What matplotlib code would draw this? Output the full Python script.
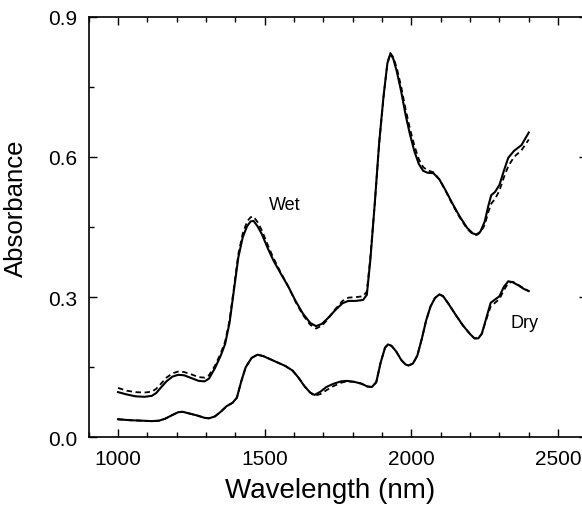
import numpy as np
import matplotlib
matplotlib.use("Agg")
import matplotlib.pyplot as plt
from matplotlib.ticker import MultipleLocator

plt.rcParams['font.family'] = ['Liberation Sans', 'DejaVu Sans']

# values (wavelength in nm, absorbance)
wet_nm = [1000, 1030, 1060, 1090, 1115, 1130, 1145, 1165, 1185, 1205,
          1225, 1250, 1275, 1295, 1310, 1330, 1350, 1365, 1380, 1395,
          1410, 1425, 1440, 1452, 1462, 1475, 1490, 1510, 1530, 1555,
          1580, 1605, 1630, 1655, 1675, 1695, 1715, 1740, 1765, 1785,
          1810, 1835, 1848, 1860, 1875, 1890, 1905, 1918, 1928, 1938,
          1950, 1965, 1980, 1995, 2010, 2025, 2040, 2055, 2075, 2095,
          2115, 2140, 2165, 2190, 2210, 2222, 2235, 2250, 2262, 2272,
          2285, 2300, 2315, 2330, 2350, 2375, 2400]

wet_solid = [0.097, 0.092, 0.088, 0.087, 0.089, 0.095, 0.106, 0.120, 0.130, 0.134,
             0.133, 0.127, 0.121, 0.120, 0.126, 0.148, 0.175, 0.200, 0.245, 0.315,
             0.385, 0.428, 0.452, 0.462, 0.463, 0.452, 0.435, 0.405, 0.378, 0.350,
             0.323, 0.292, 0.265, 0.245, 0.238, 0.243, 0.255, 0.272, 0.287, 0.292,
             0.292, 0.294, 0.305, 0.380, 0.500, 0.630, 0.730, 0.800, 0.820, 0.810,
             0.783, 0.740, 0.690, 0.648, 0.612, 0.585, 0.570, 0.566, 0.565, 0.552,
             0.530, 0.500, 0.472, 0.448, 0.436, 0.434, 0.440, 0.462, 0.495, 0.518,
             0.525, 0.540, 0.570, 0.598, 0.613, 0.625, 0.652]

wet_dashed = [0.106, 0.100, 0.097, 0.096, 0.098, 0.104, 0.114, 0.128, 0.137, 0.141,
              0.140, 0.135, 0.129, 0.128, 0.133, 0.153, 0.180, 0.205, 0.250, 0.320,
              0.392, 0.436, 0.462, 0.471, 0.472, 0.461, 0.443, 0.412, 0.383, 0.352,
              0.323, 0.290, 0.262, 0.241, 0.233, 0.239, 0.253, 0.274, 0.292, 0.299,
              0.300, 0.302, 0.312, 0.385, 0.500, 0.628, 0.728, 0.800, 0.822, 0.813,
              0.790, 0.750, 0.702, 0.660, 0.624, 0.595, 0.578, 0.571, 0.567, 0.552,
              0.529, 0.498, 0.470, 0.446, 0.434, 0.433, 0.438, 0.455, 0.482, 0.500,
              0.510, 0.528, 0.556, 0.580, 0.600, 0.614, 0.637]

dry_nm = [1000, 1040, 1080, 1115, 1140, 1160, 1185, 1205, 1220, 1245,
          1270, 1295, 1310, 1330, 1350, 1370, 1390, 1405, 1420, 1435,
          1455, 1475, 1495, 1520, 1545, 1570, 1595, 1615, 1635, 1655,
          1670, 1690, 1710, 1735, 1760, 1780, 1805, 1830, 1850, 1865,
          1880, 1895, 1910, 1920, 1932, 1948, 1965, 1980, 1990, 2005,
          2020, 2035, 2050, 2065, 2080, 2095, 2108, 2125, 2150, 2175,
          2200, 2215, 2228, 2240, 2255, 2270, 2285, 2300, 2315, 2330,
          2345, 2365, 2385, 2400]

dry_solid = [0.039, 0.037, 0.036, 0.035, 0.036, 0.040, 0.048, 0.054, 0.055, 0.051,
             0.047, 0.042, 0.041, 0.045, 0.055, 0.067, 0.074, 0.085, 0.120, 0.150,
             0.170, 0.177, 0.174, 0.167, 0.160, 0.153, 0.143, 0.128, 0.110, 0.096,
             0.091, 0.098, 0.108, 0.115, 0.120, 0.121, 0.119, 0.115, 0.109, 0.108,
             0.118, 0.160, 0.192, 0.199, 0.196, 0.184, 0.166, 0.156, 0.154, 0.158,
             0.175, 0.210, 0.250, 0.280, 0.298, 0.306, 0.302, 0.287, 0.263, 0.240,
             0.221, 0.212, 0.212, 0.222, 0.255, 0.288, 0.295, 0.302, 0.322, 0.334,
             0.332, 0.325, 0.317, 0.313]

dry_dashed = [0.039, 0.037, 0.036, 0.035, 0.036, 0.040, 0.048, 0.054, 0.055, 0.051,
              0.047, 0.042, 0.041, 0.045, 0.055, 0.067, 0.074, 0.085, 0.120, 0.150,
              0.170, 0.177, 0.174, 0.167, 0.160, 0.153, 0.143, 0.128, 0.110, 0.096,
              0.089, 0.093, 0.101, 0.110, 0.117, 0.120, 0.119, 0.115, 0.109, 0.108,
              0.118, 0.160, 0.192, 0.199, 0.196, 0.184, 0.166, 0.156, 0.154, 0.158,
              0.175, 0.210, 0.250, 0.280, 0.298, 0.306, 0.302, 0.287, 0.263, 0.240,
              0.221, 0.212, 0.212, 0.222, 0.252, 0.280, 0.288, 0.296, 0.315, 0.330,
              0.333, 0.326, 0.318, 0.313]

fig = plt.figure(figsize=(5.82, 5.06), dpi=100)
# right edge of the axes lies just outside the picture, as in the original
ax = fig.add_axes([0.1524, 0.1334, 0.857, 0.832])

ax.plot(wet_nm, wet_dashed, color='black', lw=1.3, ls=(0, (3, 2)))
ax.plot(dry_nm, dry_dashed, color='black', lw=1.3, ls=(0, (3, 2)))
ax.plot(wet_nm, wet_solid, color='black', lw=1.5)
ax.plot(dry_nm, dry_solid, color='black', lw=1.5)

ax.text(1569, 0.499, "Wet", fontsize=13, ha='center', va='center')
ax.text(2387, 0.245, "Dry", fontsize=13, ha='center', va='center')

ax.set_xlim(900, 2600)
ax.set_ylim(0, 0.9)
ax.xaxis.set_major_locator(MultipleLocator(500))
ax.xaxis.set_minor_locator(MultipleLocator(100))
ax.yaxis.set_major_locator(MultipleLocator(0.3))
ax.yaxis.set_minor_locator(MultipleLocator(0.15))
ax.yaxis.set_major_formatter(plt.FuncFormatter(lambda v, p: f"{v:.1f}"))

ax.tick_params(which='both', direction='in', top=True, right=True, labelsize=15, pad=8)
ax.tick_params(which='major', length=6, width=1)
ax.tick_params(which='minor', length=3.5, width=1)
ax.set_xticks([1000, 1500, 2000, 2500])
for s in ax.spines.values():
    s.set_linewidth(1.2)

ax.set_xlabel("Wavelength (nm)", fontsize=20)
ax.set_ylabel("Absorbance", fontsize=18.5)
ax.xaxis.set_label_coords(0.484, -0.094)
ax.yaxis.set_label_coords(-0.121, 0.548)

fig.savefig("out.png", dpi=100)
